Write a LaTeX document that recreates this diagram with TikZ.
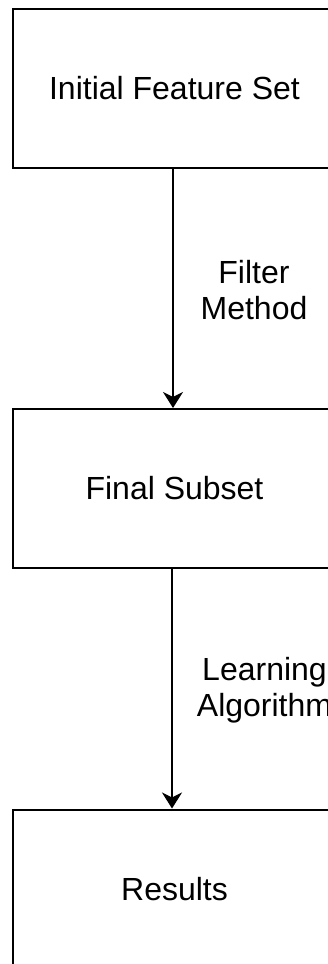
\documentclass[tikz,border=0pt]{standalone}
\usepackage{fontspec}
\setmainfont{Liberation Sans}
\usetikzlibrary{arrows.meta}
\begin{document}
\begin{tikzpicture}[x=1pt,y=-1pt,
  stagebox/.style={draw=black, line width=2pt, fill=white, inner sep=0pt,
    minimum width=323pt, minimum height=159pt,
    font=\fontsize{32}{36}\selectfont, text=black},
  edgelabel/.style={align=center, inner sep=0pt,
    font=\fontsize{32}{36}\selectfont, text=black},
  flow/.style={draw=black, line width=2pt,
    -{Stealth[length=16pt, width=20pt, inset=5pt]}}]
  \useasboundingbox (0,0) rectangle (328,964);
  \clip (0,0) rectangle (328,964);

  % stages of the pipeline
  \node[stagebox] (init)    at (174.5,88.5)  {Initial Feature Set};
  \node[stagebox] (subset)  at (174.5,488.5) {Final Subset};
  \node[stagebox] (results) at (174.5,889)   {Results};

  % transitions between stages
  \draw[flow] ([xshift=-1.5pt]init.south) -- ([xshift=-1.5pt]subset.north);
  \draw[flow] ([xshift=-2.5pt]subset.south) -- ([xshift=-2.5pt]results.north);

  % transition labels
  \node[edgelabel] (filterlbl) at (254,290)   {Filter\\Method};
  \node[edgelabel] (learnlbl)  at (264.5,690) {Learning\\Algorithm};
\end{tikzpicture}
\end{document}
